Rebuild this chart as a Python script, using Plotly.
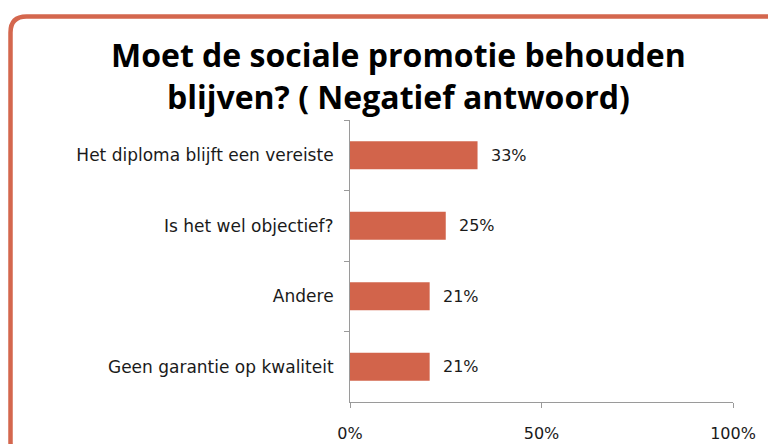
import plotly.graph_objects as go

categories = ["Het diploma blijft een vereiste", "Is het wel objectief?", "Andere", "Geen garantie op kwaliteit"]
values = [0.333, 0.25, 0.208, 0.208]
x_ticks = [0, 0.5, 1]
x_tick_labels = ["0%", "50%", "100%"]
title_text = "Moet de sociale promotie behouden<br>blijven? ( Negatief antwoord)"

W, H = 768, 444
L, R, T, B = 350, 35, 120, 42
pw, ph = W - L - R, H - T - B

def px(xp):
    return (xp - L) / pw

def py(yp):
    return (H - B - yp) / ph

bar_color = "#D2644B"
border_color = "#D4674E"
label_font = "'DejaVu Sans', sans-serif"
title_font = "'Open Sans', sans-serif"

fig = go.Figure()
fig.add_trace(go.Bar(
    y=categories, x=values, orientation="h",
    marker=dict(color=bar_color, line=dict(width=0)),
    hoverinfo="skip",
))

for c, v in zip(categories, values):
    fig.add_annotation(x=v, y=c, xref="x", yref="y", text=f"{round(v*100)}%",
                       showarrow=False, xanchor="left", xshift=11,
                       font=dict(size=16, color="#1a1a1a", family=label_font))

# Title
fig.add_annotation(x=px(398), y=py(75), xref="paper", yref="paper", text=title_text,
                   showarrow=False, xanchor="center", yanchor="middle",
                   font=dict(size=32, color="#000000", family=title_font, weight="bold"))

# Rounded border
x0, x1 = 10.5, 782
y0, y1 = 16.5, 458
r = 16
path = (f"M {px(x0 + r)},{py(y1)} Q {px(x0)},{py(y1)} {px(x0)},{py(y1 - r)} "
        f"L {px(x0)},{py(y0 + r)} "
        f"Q {px(x0)},{py(y0)} {px(x0 + r)},{py(y0)} "
        f"L {px(x1 - r)},{py(y0)} Q {px(x1)},{py(y0)} {px(x1)},{py(y0 + r)} "
        f"L {px(x1)},{py(y1 - r)}")
fig.add_shape(type="path", path=path, xref="paper", yref="paper",
              line=dict(color=border_color, width=4.5), layer="above")

fig.update_layout(
    width=W, height=H,
    margin=dict(l=L, r=R, t=T, b=B, autoexpand=False),
    paper_bgcolor="white", plot_bgcolor="white",
    showlegend=False,
    bargap=0.6,
    font=dict(family=label_font, color="#1a1a1a"),
    xaxis=dict(range=[0, 1], tickvals=x_ticks, ticktext=x_tick_labels, automargin=False,
               showgrid=False, zeroline=False, showline=True, linecolor="#9a9a9a", linewidth=1,
               ticks="outside", ticklen=5, tickcolor="#9a9a9a",
               tickfont=dict(size=16, color="#1a1a1a"), ticklabelstandoff=12, fixedrange=True),
    yaxis=dict(autorange="reversed", showgrid=False, zeroline=False, automargin=False,
               showline=True, linecolor="#9a9a9a", linewidth=1,
               ticks="outside", ticklen=5, tickcolor="#9a9a9a", tickson="boundaries",
               tickfont=dict(size=17, color="#1a1a1a"), ticklabelstandoff=12, fixedrange=True),
)

fig.write_html("out.html")
